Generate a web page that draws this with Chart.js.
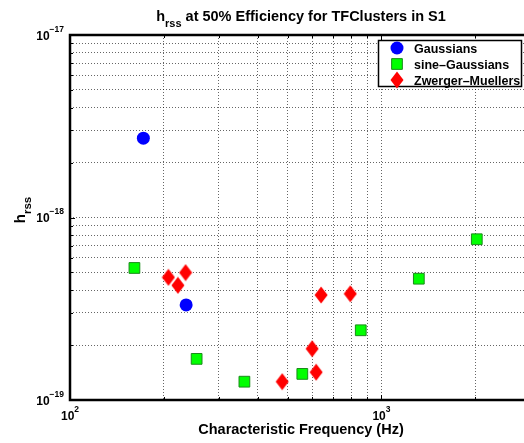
<!DOCTYPE html>
<html>
<head>
<meta charset="utf-8">
<script src="https://cdn.jsdelivr.net/npm/chart.js@4/dist/chart.umd.min.js"></script>
<style>
  html, body { margin: 0; padding: 0; background: #fff; overflow: hidden; }
  canvas { display: block; }
</style>
</head>
<body>
<canvas id="myChart" width="524" height="443"></canvas>
<script>
// values
const gaussFreq = [172, 236]
const gaussH = [2.72e-18, 3.32e-19]

const sineFreq = [161, 255, 363, 557, 858, 1318, 2023]
const sineH = [5.29e-19, 1.68e-19, 1.26e-19, 1.39e-19, 2.41e-19, 4.62e-19, 7.6e-19]

const zmFreq = [207, 235, 222, 480, 599, 617, 640, 794]
const zmH = [4.70e-19, 4.99e-19, 4.25e-19, 1.26e-19, 1.91e-19, 1.42e-19, 3.76e-19, 3.82e-19]

const seriesNames = ['Gaussians', 'sine\u2013Gaussians', 'Zwerger\u2013Muellers']

// ticks (grid lines) and labelled decades
const xTicks = [100, 200, 300, 400, 500, 600, 700, 800, 900, 1000, 2000]
const yTicks = [1e-19, 2e-19, 3e-19, 4e-19, 5e-19, 6e-19, 7e-19, 8e-19, 9e-19,
                1e-18, 2e-18, 3e-18, 4e-18, 5e-18, 6e-18, 7e-18, 8e-18, 9e-18, 1e-17]
const xMajor = [[100, '2'], [1000, '3']]
const yMajor = [[1e-19, '\u221219'], [1e-18, '\u221218'], [1e-17, '\u221217']]

// the original axes run past the right edge of the picture
const xMin = 100
const xMax = 2868

const FONT = '"Liberation Sans", Arial, Helvetica, sans-serif'

const toPoints = (xs, ys) => xs.map((x, i) => ({ x: x, y: ys[i] }))

// MATLAB style diamond (taller than wide)
const makeDiamond = () => {
    const c = document.createElement('canvas')
    c.width = 14
    c.height = 18
    const g = c.getContext('2d')
    g.fillStyle = '#ff0000'
    g.beginPath()
    g.moveTo(7, 0.5)
    g.lineTo(13.5, 9)
    g.lineTo(7, 17.5)
    g.lineTo(0.5, 9)
    g.closePath()
    g.fill()
    return c
}
const diamond = makeDiamond()

// text with a subscript / superscript part
const drawSub = (ctx, base, sub, size, subSize, x, y, drop) => {
    ctx.font = 'bold ' + size + 'px ' + FONT
    const w1 = ctx.measureText(base).width
    ctx.fillText(base, x, y)
    ctx.font = 'bold ' + subSize + 'px ' + FONT
    ctx.fillText(sub, x + w1, y + drop)
    return w1 + ctx.measureText(sub).width
}
const measureSub = (ctx, base, sub, size, subSize) => {
    ctx.font = 'bold ' + size + 'px ' + FONT
    const w1 = ctx.measureText(base).width
    ctx.font = 'bold ' + subSize + 'px ' + FONT
    return w1 + ctx.measureText(sub).width
}

const decor = {
    id: 'decor',
    afterDatasetsDraw(chart) {
        const ctx = chart.ctx
        const a = chart.chartArea
        const xs = chart.scales.x
        const ys = chart.scales.y
        ctx.save()
        ctx.strokeStyle = '#000'

        // inward tick marks
        ctx.lineWidth = 1
        xTicks.forEach(v => {
            const px = Math.round(xs.getPixelForValue(v)) + 0.5
            const len = xMajor.some(m => m[0] === v) ? 5 : 3
            ctx.beginPath()
            ctx.moveTo(px, a.bottom); ctx.lineTo(px, a.bottom - len)
            ctx.moveTo(px, a.top); ctx.lineTo(px, a.top + len)
            ctx.stroke()
        })
        yTicks.forEach(v => {
            const py = Math.round(ys.getPixelForValue(v)) + 0.5
            const len = yMajor.some(m => m[0] === v) ? 5 : 3
            ctx.beginPath()
            ctx.moveTo(a.left, py); ctx.lineTo(a.left + len, py)
            ctx.stroke()
        })

        // frame (right side lies outside the picture)
        ctx.lineWidth = 2.5
        ctx.beginPath()
        ctx.moveTo(a.right + 5, a.top)
        ctx.lineTo(a.left, a.top)
        ctx.lineTo(a.left, a.bottom)
        ctx.lineTo(a.right + 5, a.bottom)
        ctx.stroke()

        // legend box
        const lx = 378.5, ly = 40.5, lw = 143, lh = 46
        ctx.fillStyle = '#fff'
        ctx.fillRect(lx, ly, lw, lh)
        ctx.lineWidth = 1.5
        ctx.strokeRect(lx, ly, lw, lh)
        ctx.font = 'bold 12.5px ' + FONT
        ctx.textBaseline = 'alphabetic'
        chart.data.datasets.forEach((ds, i) => {
            const cy = 48 + i * 16
            ctx.fillStyle = ds.backgroundColor
            ctx.strokeStyle = ds.borderColor
            ctx.lineWidth = ds.borderWidth
            Chart.helpers.drawPoint(ctx, {
                pointStyle: ds.pointStyle, radius: ds.pointRadius, rotation: 0, borderWidth: ds.borderWidth
            }, 397, cy)
            ctx.fillStyle = '#000'
            ctx.fillText(ds.label, 414, cy + 4.5)
        })
        ctx.restore()
    },
    afterDraw(chart) {
        const ctx = chart.ctx
        const a = chart.chartArea
        const xs = chart.scales.x
        const ys = chart.scales.y
        const cx = 300
        ctx.save()
        ctx.fillStyle = '#000'
        ctx.textAlign = 'left'
        ctx.textBaseline = 'alphabetic'

        // title
        const rest = ' at 50% Efficiency for TFClusters in S1'
        const tw = measureSub(ctx, 'h', 'rss', 14.5, 11) + measureSub(ctx, rest, '', 14.5, 11)
        let tx = cx - tw / 2 + 1
        tx += drawSub(ctx, 'h', 'rss', 14.5, 11, tx, 21, 6)
        drawSub(ctx, rest, '', 14.5, 11, tx, 21, 0)

        // x label
        ctx.font = 'bold 14.5px ' + FONT
        ctx.textAlign = 'center'
        ctx.fillText('Characteristic Frequency (Hz)', cx + 1, 434)
        ctx.textAlign = 'left'

        // y label (rotated)
        ctx.save()
        ctx.translate(25, 210)
        ctx.rotate(-Math.PI / 2)
        const yw = measureSub(ctx, 'h', 'rss', 15, 11.5)
        drawSub(ctx, 'h', 'rss', 15, 11.5, -yw / 2, 0, 6)
        ctx.restore()

        // y tick labels 10^n
        yMajor.forEach(([v, ex]) => {
            const py = ys.getPixelForValue(v)
            const w = measureSub(ctx, '10', ex, 12, 8.5)
            drawSub(ctx, '10', ex, 12, 8.5, a.left - 6 - w, py + 4.5, -8)
        })
        // x tick labels 10^n
        xMajor.forEach(([v, ex]) => {
            const px = xs.getPixelForValue(v)
            const w = measureSub(ctx, '10', ex, 12, 8.5)
            drawSub(ctx, '10', ex, 12, 8.5, px - w / 2, 420, -8)
        })
        ctx.restore()
    }
}

const dataConfig = {
    datasets: [{
        label: seriesNames[0],
        data: toPoints(gaussFreq, gaussH),
        pointStyle: 'circle',
        pointRadius: 6.5,
        backgroundColor: '#0000ff',
        borderColor: '#0000ff',
        borderWidth: 0
    }, {
        label: seriesNames[1],
        data: toPoints(sineFreq, sineH),
        pointStyle: 'rect',
        pointRadius: 7.6,
        backgroundColor: '#00ff00',
        borderColor: '#1b8a1b',
        borderWidth: 1
    }, {
        label: seriesNames[2],
        data: toPoints(zmFreq, zmH),
        pointStyle: diamond,
        pointRadius: 8,
        backgroundColor: '#ff0000',
        borderColor: '#ff0000',
        borderWidth: 0
    }]
}

const gridOpts = {
    color: 'rgba(0,0,0,0.6)',
    lineWidth: 1,
    drawTicks: false
}

const config = {
    type: 'scatter',
    data: dataConfig,
    options: {
        responsive: false,
        animation: false,
        devicePixelRatio: 1,
        layout: { autoPadding: false, padding: { top: 35, right: 0, left: 0, bottom: 0 } },
        plugins: {
            legend: { display: false },
            title: { display: false },
            tooltip: { enabled: false }
        },
        scales: {
            x: {
                type: 'logarithmic',
                min: xMin,
                max: xMax,
                grid: gridOpts,
                border: { display: false, dash: [1, 2] },
                ticks: { display: false, autoSkip: false },
                afterBuildTicks: s => { s.ticks = xTicks.map(v => ({ value: v })) },
                afterFit: s => { s.height = 43 }
            },
            y: {
                type: 'logarithmic',
                min: 1e-19,
                max: 1e-17,
                grid: gridOpts,
                border: { display: false, dash: [1, 2] },
                ticks: { display: false, autoSkip: false },
                afterBuildTicks: s => { s.ticks = yTicks.map(v => ({ value: v })) },
                afterFit: s => { s.width = 70 }
            }
        }
    },
    plugins: [decor]
}

const myChart = new Chart(document.getElementById('myChart'), config)
</script>
</body>
</html>
